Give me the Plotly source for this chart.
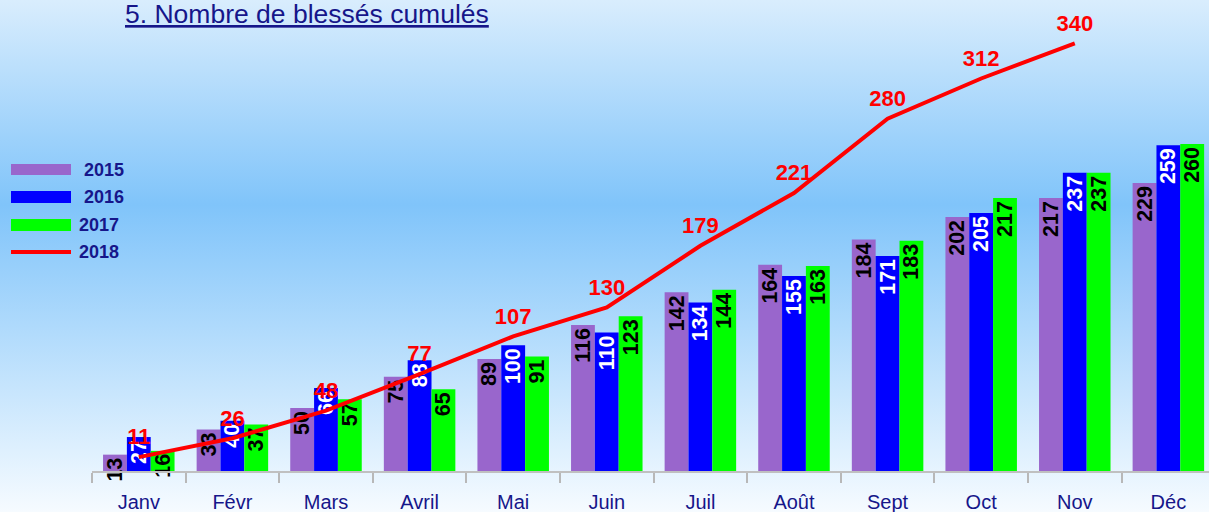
import base64
import plotly.graph_objects as go

months = ["Janv", "Févr", "Mars", "Avril", "Mai", "Juin", "Juil", "Août", "Sept", "Oct", "Nov", "Déc"]
v2015 = [13, 33, 50, 75, 89, 116, 142, 164, 184, 202, 217, 229]
v2016 = [27, 40, 66, 88, 100, 110, 134, 155, 171, 205, 237, 259]
v2017 = [16, 37, 57, 65, 91, 123, 144, 163, 183, 217, 237, 260]
v2018 = [11, 26, 48, 77, 107, 130, 179, 221, 280, 312, 340, None]
series_names = ["2015", "2016", "2017", "2018"]
title_text = "5. Nombre de blessés cumulés"

W, H = 1209, 512
ML, MR, MT, MB = 92, 0, 0, 41
PW, PH = W - ML - MR, H - MT - MB
NAVY = "#16168a"
FONT = "Liberation Sans, Arial, sans-serif"


def px2x(px):
    return (px - ML) / PW


def py2y(py):
    return (H - MB - py) / PH


fig = go.Figure()

bar_styles = [("#9966cc", "black"), ("#0000ff", "white"), ("#00ff00", "black")]
for name, vals, (col, tcol) in zip(series_names[:3], [v2015, v2016, v2017], bar_styles):
    fig.add_trace(go.Bar(
        x=months, y=vals, name=name, marker=dict(color=col, line=dict(width=0)),
        texttemplate="%{y}", textposition="inside", insidetextanchor="end",
        textangle=-90, constraintext="none", cliponaxis=False,
        textfont=dict(family=FONT, size=21.5, color=tcol, weight="bold"),
        showlegend=False,
    ))

fig.add_trace(go.Scatter(
    x=months, y=v2018, name=series_names[3], mode="lines+markers+text",
    line=dict(color="#ff0000", width=4),
    marker=dict(size=10, color="rgba(0,0,0,0)"),
    texttemplate="%{y}", textposition="top center", cliponaxis=False,
    textfont=dict(family=FONT, size=22, color="#ff0000", weight="bold"),
    showlegend=False, connectgaps=False,
))

# background gradient
svg = (
    '<svg xmlns="http://www.w3.org/2000/svg" width="1209" height="512" preserveAspectRatio="none">'
    '<defs><linearGradient id="g" x1="0" y1="0" x2="0" y2="1">'
    '<stop offset="0" stop-color="#d9edfd"/>'
    '<stop offset="0.40" stop-color="#80c4fa"/>'
    '<stop offset="1" stop-color="#f6fbff"/>'
    '</linearGradient></defs>'
    '<rect width="1209" height="512" fill="url(#g)"/></svg>'
)
uri = "data:image/svg+xml;base64," + base64.b64encode(svg.encode()).decode()
fig.add_layout_image(dict(
    source=uri, xref="paper", yref="paper", x=px2x(0), y=py2y(0),
    sizex=W / PW, sizey=H / PH, xanchor="left", yanchor="top",
    sizing="stretch", layer="below",
))

# manual legend
shapes = []
annos = []
swatches = [(164, 175, "#9966cc"), (191, 203, "#0000ff"), (219, 231, "#00ff00")]
for (y0, y1, c) in swatches:
    shapes.append(dict(type="rect", xref="paper", yref="paper",
                       x0=px2x(11), x1=px2x(71), y0=py2y(y1), y1=py2y(y0),
                       fillcolor=c, line=dict(width=0)))
shapes.append(dict(type="line", xref="paper", yref="paper",
                   x0=px2x(11), x1=px2x(71), y0=py2y(252), y1=py2y(252),
                   line=dict(color="#ff0000", width=4)))
leg_pos = [(82, 170), (82, 197), (77, 225), (77, 252)]
for name, (lx, ly) in zip(series_names, leg_pos):
    annos.append(dict(text=name, xref="paper", yref="paper", x=px2x(lx), y=py2y(ly),
                      xanchor="left", yanchor="middle", showarrow=False,
                      font=dict(family=FONT, size=18, color=NAVY, weight="bold")))

annos.append(dict(text="<u>" + title_text + "</u>", xref="paper", yref="paper",
                  x=px2x(307), y=1, xanchor="center", yanchor="top", yshift=3,
                  showarrow=False, font=dict(family=FONT, size=26.5, color=NAVY)))

fig.update_layout(
    width=W, height=H, autosize=False,
    margin=dict(l=ML, r=MR, t=MT, b=MB, pad=0),
    paper_bgcolor="#bfe1fc", plot_bgcolor="rgba(0,0,0,0)",
    barmode="group", bargap=0.236, bargroupgap=0,
    shapes=shapes, annotations=annos,
    xaxis=dict(type="category", categoryorder="array", categoryarray=months,
               range=[-0.5, 11.434], tickson="boundaries", ticks="outside",
               ticklen=10, tickwidth=2, tickcolor="#b8b8b8",
               showline=True, linecolor="#c0c0c0", linewidth=2,
               showgrid=False, zeroline=False, ticklabelstandoff=12,
               tickfont=dict(family=FONT, size=20, color=NAVY)),
    yaxis=dict(range=[0, 374.4], showticklabels=False, showgrid=False,
               zeroline=False, showline=False, ticks=""),
)

fig.write_html(
    "out.html",
    config={"displayModeBar": False},
    post_script="document.body.style.margin='0';document.body.style.overflow='hidden';",
)
